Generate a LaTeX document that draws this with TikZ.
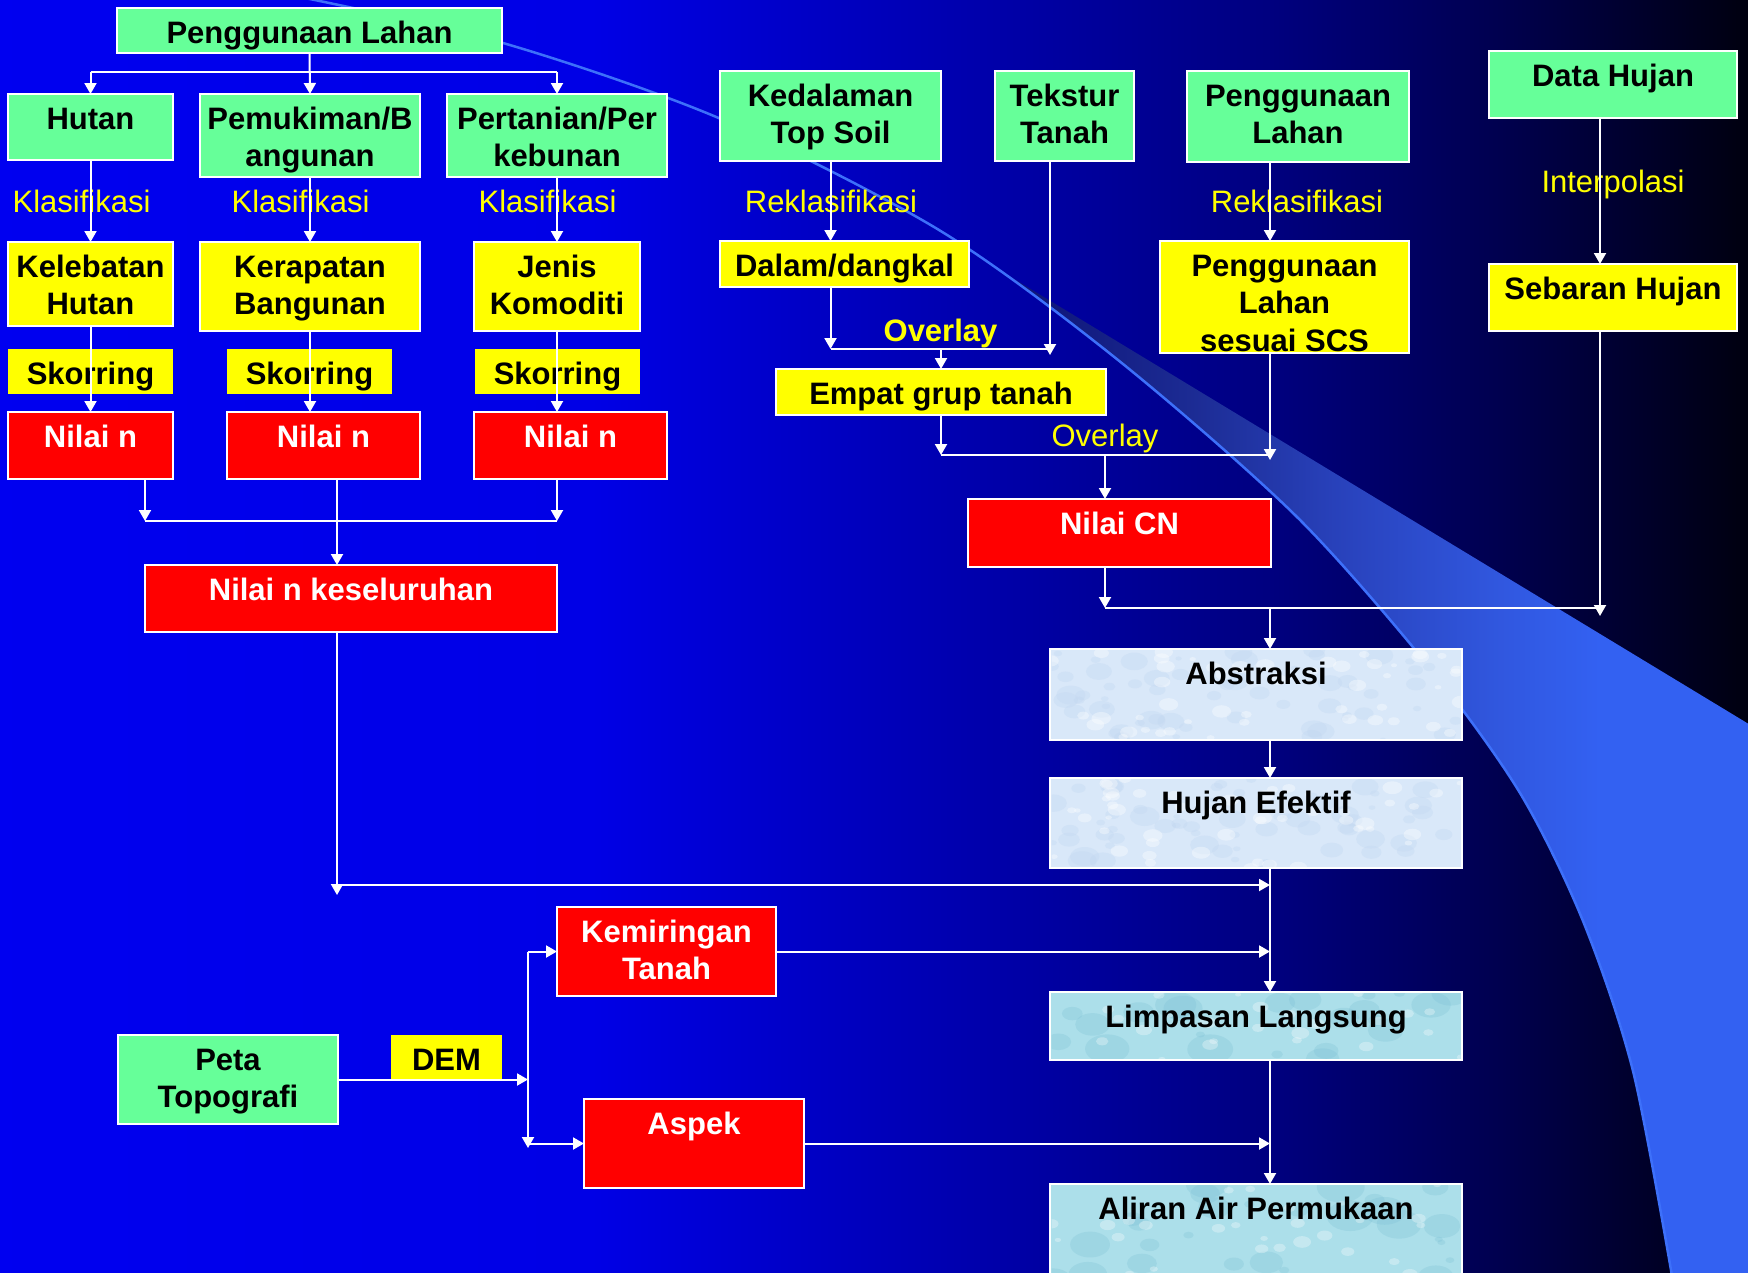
\documentclass[tikz,border=0pt]{standalone}
\usepackage{fontspec}
\setmainfont{Liberation Sans}
\usetikzlibrary{arrows.meta,fit}

\definecolor{grn}{HTML}{66FF99}
\definecolor{yel}{HTML}{FFFF00}
\definecolor{rd}{HTML}{FF0000}
\definecolor{icebg}{HTML}{D9E8F9}
\definecolor{icedark}{HTML}{C2D7F1}
\definecolor{aqua}{HTML}{ACDFEA}
\definecolor{aquadark}{HTML}{7EC2D6}
\definecolor{edgeblue}{rgb}{0.24,0.44,0.98}

% slide backdrop: bright blue on the left fading to black on the right
\pgfdeclarehorizontalshading{bgshade}{100bp}{%
  rgb(0bp)=(0,0,0.94); rgb(25bp)=(0,0,0.94); rgb(42bp)=(0,0,0.9);
  rgb(50.75bp)=(0,0,0.72); rgb(61.3bp)=(0,0,0.5); rgb(67.9bp)=(0,0,0.31);
  rgb(75bp)=(0,0,0.06); rgb(100bp)=(0,0,0.06)}
% the swoosh band, dark at its tip and bright blue to the right
\pgfdeclarehorizontalshading{bandshade}{100bp}{%
  rgb(0bp)=(0.06,0.09,0.48); rgb(28bp)=(0.06,0.09,0.48); rgb(38bp)=(0.11,0.17,0.58);
  rgb(48bp)=(0.16,0.26,0.74); rgb(58bp)=(0.19,0.34,0.87); rgb(65bp)=(0.2,0.38,0.95);
  rgb(100bp)=(0.2,0.38,0.95)}

\newcommand\boxfont{\fontsize{31}{37.5}\selectfont\bfseries}
\newcommand\labfont{\fontsize{31}{37.5}\selectfont}

% speckled texture inside a box: x1 y1 x2 y2 fill count maxradius
\newcommand\speckle[7]{%
  \begin{scope}
    \clip ({#1+1.5},{#2+1.5}) rectangle ({#3-1.5},{#4-1.5});
    \foreach \k in {1,...,#6}{%
      \pgfmathsetmacro\sx{#1+rnd*(#3-#1)}%
      \pgfmathsetmacro\sy{#2+rnd*(#4-#2)}%
      \pgfmathsetmacro\sr{3+rnd*#7}%
      \fill[#5] (\sx,\sy) ellipse[x radius=\sr, y radius=0.65*\sr];
    }
  \end{scope}}

% box with top-anchored centred text:
% [extra drawing] {box style}{text style}{name}{x1}{y1}{x2}{y2}{text}
\newcommand\bx[9][]{%
  \coordinate (#4-a) at (#5,#6);
  \coordinate (#4-b) at (#7,#8);
  \node[#2, fit=(#4-a)(#4-b)] (#4) {};
  #1
  \node[#3, anchor=north] (#4-t) at ({(#5+#7)/2},{#6+12}) {\rule{0pt}{23pt}#9};
}

\tikzset{
  base/.style={inner sep=0pt, outer sep=0pt, line width=2pt},
  boxG/.style={base, draw=white, fill=grn},
  boxY/.style={base, draw=white, fill=yel},
  boxS/.style={base, fill=yel},
  boxR/.style={base, draw=white, fill=rd},
  boxI/.style={base, draw=white, fill=icebg},
  boxA/.style={base, draw=white, fill=aqua},
  tK/.style={font=\boxfont, text=black, align=center, inner sep=0pt},
  tW/.style={font=\boxfont, text=white, align=center, inner sep=0pt},
  lab/.style={font=\labfont, text=yel, inner sep=0pt, anchor=base},
  labB/.style={font=\boxfont, text=yel, inner sep=0pt, anchor=base},
  wire/.style={draw=white, line width=2pt},
  arr/.style={wire, -{Triangle[width=12pt,length=11pt]}},
}

\begin{document}
\begin{tikzpicture}[x=1pt, y=-1pt]
\pgfmathsetseed{7}
\useasboundingbox (0,0) rectangle (1748,1272);
\clip (0,0) rectangle (1748,1272);

% ---- backdrop ----
\shade[shading=bgshade] (0,0) rectangle (1748,1272);
\shade[shading=bandshade]
  plot[smooth, tension=.5] coordinates {(996,268) (1118,360) (1296,516) (1430,668)
    (1520,793) (1583,921) (1633,1071) (1672,1276)}
  -- (1752,1276) -- (1752,726) -- cycle;
\draw[edgeblue, line width=2.5pt]
  plot[smooth, tension=.5] coordinates {(300,-3) (503,43) (721,119) (939,230)
    (1118,360) (1296,516) (1430,668) (1520,793) (1583,921) (1633,1071) (1672,1276)};

% ---- land use branch ----
\bx{boxG}{tK}{pl1}{117}{8}{502}{53}{Penggunaan Lahan}
\bx{boxG}{tK}{hutan}{8}{94}{173}{160}{Hutan}
\bx{boxG}{tK}{pemu}{200}{94}{420}{177}{Pemukiman/B\\angunan}
\bx{boxG}{tK}{pert}{447}{94}{667}{177}{Pertanian/Per\\kebunan}
\bx{boxY}{tK}{keleb}{8}{242}{173}{326}{Kelebatan\\Hutan}
\bx{boxY}{tK}{kerap}{200}{242}{420}{331}{Kerapatan\\Bangunan}
\bx{boxY}{tK}{jenis}{474}{242}{640}{331}{Jenis\\Komoditi}
\bx{boxS}{tK}{sk1}{8}{349}{173}{394}{Skorring}
\bx{boxS}{tK}{sk2}{227}{349}{392}{394}{Skorring}
\bx{boxS}{tK}{sk3}{475}{349}{640}{394}{Skorring}
\bx{boxR}{tW}{n1}{8}{412}{173}{479}{Nilai n}
\bx{boxR}{tW}{n2}{227}{412}{420}{479}{Nilai n}
\bx{boxR}{tW}{n3}{474}{412}{667}{479}{Nilai n}
\bx{boxR}{tW}{nk}{145}{565}{557}{632}{Nilai n keseluruhan}

% ---- soil and rain branch ----
\bx{boxG}{tK}{keda}{720}{71}{941}{161}{Kedalaman\\Top Soil}
\bx{boxG}{tK}{teks}{995}{71}{1134}{161}{Tekstur\\Tanah}
\bx{boxG}{tK}{pl2}{1187}{71}{1409}{162}{Penggunaan\\Lahan}
\bx{boxG}{tK}{data}{1489}{51}{1737}{118}{Data Hujan}
\bx{boxY}{tK}{dalam}{720}{241}{969}{287}{Dalam/dangkal}
\bx{boxY}{tK}{empat}{776}{369}{1106}{415}{Empat grup tanah}
\bx{boxY}{tK}{scs}{1160}{241}{1409}{353}{Penggunaan\\Lahan\\sesuai SCS}
\bx{boxY}{tK}{sebar}{1489}{264}{1737}{331}{Sebaran Hujan}
\bx{boxR}{tW}{cn}{968}{499}{1271}{567}{Nilai CN}

% ---- runoff chain ----
\bx[\speckle{1050}{649}{1462}{740}{fill=icedark, opacity=.35}{60}{12}
    \speckle{1050}{649}{1462}{740}{fill=white, opacity=.35}{50}{7}]
   {boxI}{tK}{abs}{1050}{649}{1462}{740}{Abstraksi}
\bx[\speckle{1050}{778}{1462}{868}{fill=icedark, opacity=.35}{60}{12}
    \speckle{1050}{778}{1462}{868}{fill=white, opacity=.35}{50}{7}]
   {boxI}{tK}{hujan}{1050}{778}{1462}{868}{Hujan Efektif}
\bx[\speckle{1050}{992}{1462}{1060}{fill=aquadark, opacity=.3}{22}{20}
    \speckle{1050}{992}{1462}{1060}{fill=white, opacity=.3}{25}{6}]
   {boxA}{tK}{limp}{1050}{992}{1462}{1060}{Limpasan Langsung}
\bx[\speckle{1050}{1184}{1462}{1290}{fill=aquadark, opacity=.3}{30}{22}
    \speckle{1050}{1184}{1462}{1290}{fill=white, opacity=.3}{30}{6}]
   {boxA}{tK}{aliran}{1050}{1184}{1462}{1290}{Aliran Air Permukaan}

% ---- topography branch ----
\bx{boxG}{tK}{peta}{118}{1035}{338}{1124}{Peta\\Topografi}
\bx{boxS}{tK}{dem}{391}{1035}{502}{1080}{DEM}
\bx{boxR}{tW}{kemi}{557}{907}{776}{996}{Kemiringan\\Tanah}
\bx{boxR}{tW}{aspek}{584}{1099}{804}{1188}{Aspek}

% ---- process labels ----
\node[lab] (lk1) at (81.5,212) {Klasifikasi};
\node[lab] (lk2) at (300.5,212) {Klasifikasi};
\node[lab] (lk3) at (547.5,212) {Klasifikasi};
\node[lab] (lr1) at (831,212) {Reklasifikasi};
\node[lab] (lr2) at (1297,212) {Reklasifikasi};
\node[lab] (li) at (1613,192) {Interpolasi};
\node[labB] (lo1) at (940.5,341) {Overlay};
\node[lab] (lo2) at (1105,446) {Overlay};

% ---- junction levels and columns ----
\coordinate (jTop) at (0,72);
\coordinate (jN) at (0,521);
\coordinate (jC) at (0,885);
\coordinate (jCd) at (0,895);
\coordinate (jAs) at (0,1148);
\coordinate (jO1) at (0,349);
\coordinate (jO1d) at (0,355);
\coordinate (jO2) at (0,455);
\coordinate (jO2d) at (0,460);
\coordinate (jH) at (0,608);
\coordinate (jHd) at (0,616);
\coordinate (cA) at (145,0);
\coordinate (cB) at (337,0);
\coordinate (cD) at (528,0);
\coordinate (cT) at (1050,0);
\coordinate (cC) at (1105,0);
\coordinate (cR) at (1270,0);
\coordinate (cH) at (1600,0);

% ---- connectors: land use ----
\draw[wire] (hutan.north |- jTop) -- (pert.north |- jTop);
\draw[arr] (hutan.north |- jTop) -- (hutan.north);
\draw[arr] (pl1.south) -- (pemu.north);
\draw[arr] (pert.north |- jTop) -- (pert.north);
\draw[arr] (hutan.south) -- (keleb.north);
\draw[arr] (pemu.south) -- (kerap.north);
\draw[arr] (pert.south) -- (jenis.north);
\draw[arr] (keleb.south) -- (n1.north);
\draw[arr] (kerap.south) -- (kerap.south |- n2.north);
\draw[arr] (jenis.south) -- (jenis.south |- n3.north);
\draw[arr] (cA |- n1.south) -- (cA |- jN);
\draw[arr] (jenis.south |- n3.south) -- (jenis.south |- jN);
\draw[wire] (cA |- jN) -- (jenis.south |- jN);
\draw[arr] (cB |- n2.south) -- (cB |- nk.north);
\draw[arr] (cB |- nk.south) -- (cB |- jCd);
\draw[arr] (cB |- jC) -- (cR |- jC);

% ---- connectors: topography ----
\draw[arr] (peta.east) -- (cD |- peta.east);
\draw[arr] (cD |- kemi.west) -- (cD |- jAs);
\draw[arr] (cD |- kemi.west) -- (kemi.west);
\draw[arr] (cD |- aspek.west) -- (aspek.west);
\draw[arr] (kemi.east) -- (cR |- kemi.east);
\draw[arr] (aspek.east) -- (cR |- aspek.east);

% ---- connectors: soil, land use, rain ----
\draw[arr] (keda.south) -- (keda.south |- dalam.north);
\draw[arr] (keda.south |- dalam.south) -- (keda.south |- jO1);
\draw[arr] (cT |- teks.south) -- (cT |- jO1d);
\draw[wire] (keda.south |- jO1) -- (cT |- jO1);
\draw[arr] (empat.north |- jO1) -- (empat.north);
\draw[arr] (cR |- pl2.south) -- (cR |- scs.north);
\draw[arr] (empat.south) -- (empat.south |- jO2);
\draw[arr] (cR |- scs.south) -- (cR |- jO2d);
\draw[wire] (empat.south |- jO2) -- (cR |- jO2);
\draw[arr] (cC |- jO2) -- (cC |- cn.north);
\draw[arr] (cC |- cn.south) -- (cC |- jH);
\draw[arr] (cH |- data.south) -- (cH |- sebar.north);
\draw[arr] (cH |- sebar.south) -- (cH |- jHd);
\draw[wire] (cC |- jH) -- (cH |- jH);
\draw[arr] (cR |- jH) -- (cR |- abs.north);

% ---- connectors: runoff chain ----
\draw[arr] (cR |- abs.south) -- (cR |- hujan.north);
\draw[arr] (cR |- hujan.south) -- (cR |- limp.north);
\draw[arr] (cR |- limp.south) -- (cR |- aliran.north);
\end{tikzpicture}
\end{document}
